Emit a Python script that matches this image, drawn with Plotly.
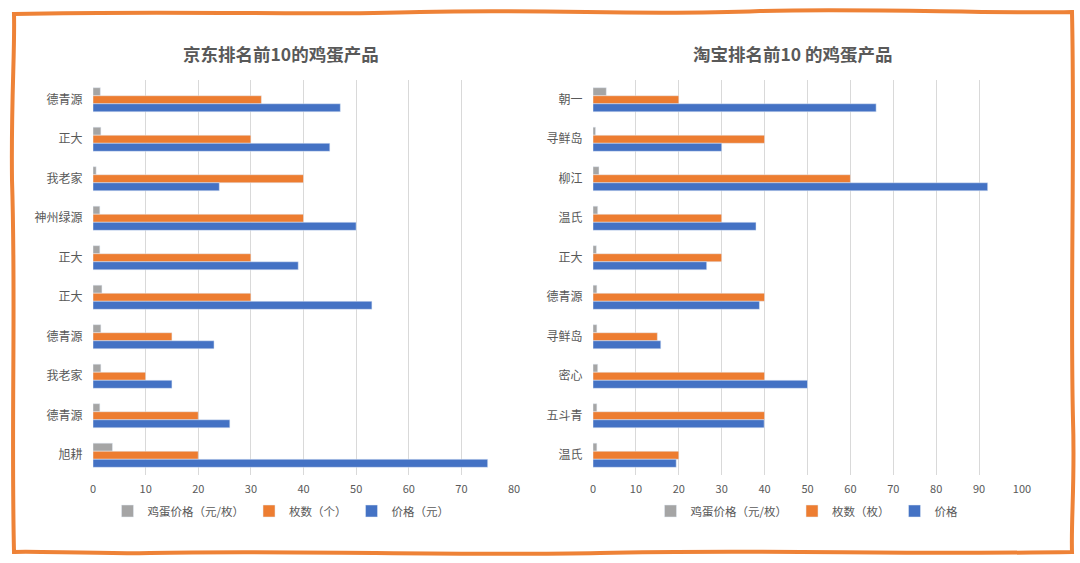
import plotly.graph_objects as go

# 京东
jd_names = ["德青源", "正大", "我老家", "神州绿源", "正大", "正大", "德青源", "我老家", "德青源", "旭耕"]
jd_unit = [1.4, 1.5, 0.6, 1.3, 1.3, 1.7, 1.5, 1.5, 1.3, 3.7]
jd_count = [32, 30, 40, 40, 30, 30, 15, 10, 20, 20]
jd_price = [47, 45, 24, 50, 39, 53, 23, 15, 26, 75]

# 淘宝
tb_names = ["朝一", "寻鲜岛", "柳江", "温氏", "正大", "德青源", "寻鲜岛", "密心", "五斗青", "温氏"]
tb_unit = [3.1, 0.6, 1.4, 1.1, 0.8, 0.9, 0.9, 1.1, 0.9, 0.9]
tb_count = [20, 40, 60, 30, 30, 40, 15, 40, 40, 20]
tb_price = [66, 30, 92, 38, 26.5, 38.8, 15.8, 50, 39.9, 19.4]

GRAY = "#A5A5A5"
ORANGE = "#ED7D31"
BLUE = "#4472C4"
TXT = "#595959"
FONT = "Noto Sans CJK SC"

W, H = 1080, 563
TOP, BOT = 80, 475  # plot area in pixels


def px(x):
    return x / W


def py(y):
    return (BOT - y) / (BOT - TOP)


fig = go.Figure()

idx = list(range(10))

left_series = [("鸡蛋价格（元/枚）", jd_unit, GRAY), ("枚数（个）", jd_count, ORANGE), ("价格（元）", jd_price, BLUE)]
right_series = [("鸡蛋价格（元/枚）", tb_unit, GRAY), ("枚数（枚）", tb_count, ORANGE), ("价格", tb_price, BLUE)]

for name, vals, color in left_series:
    fig.add_trace(go.Bar(y=idx, x=vals, orientation="h", name=name, marker_color=color,
                         xaxis="x", yaxis="y", legend="legend", offsetgroup="L" + name))
for name, vals, color in right_series:
    fig.add_trace(go.Bar(y=idx, x=vals, orientation="h", name=name, marker_color=color,
                         xaxis="x2", yaxis="y2", legend="legend2", offsetgroup="R" + name))

axis_common = dict(showgrid=True, gridcolor="#D9D9D9", gridwidth=1, zeroline=False, showline=False,
                   dtick=10, tickfont=dict(size=11, color=TXT, family=FONT),
                   ticks="outside", ticklen=4, tickcolor="rgba(0,0,0,0)", automargin=False)
yaxis_common = dict(tickmode="array", tickvals=idx, autorange="reversed", showgrid=False,
                    zeroline=False, showline=False, ticks="outside", ticklen=7,
                    tickcolor="rgba(0,0,0,0)",
                    tickfont=dict(size=12, color=TXT, family=FONT), automargin=False)

fig.update_layout(
    width=W, height=H,
    paper_bgcolor="white", plot_bgcolor="white",
    margin=dict(l=0, r=0, t=TOP, b=H - BOT, autoexpand=False),
    barmode="group", bargap=0.39, bargroupgap=0,
    font=dict(family=FONT, color=TXT),
    xaxis=dict(domain=[px(93), px(514)], range=[0, 80], anchor="y", **axis_common),
    yaxis=dict(anchor="x", ticktext=jd_names, **yaxis_common),
    xaxis2=dict(domain=[px(593), px(1022)], range=[0, 100], anchor="y2", **axis_common),
    yaxis2=dict(anchor="x2", ticktext=tb_names, **yaxis_common),
    legend=dict(orientation="h", x=px(281), xanchor="center", y=py(511), yanchor="middle",
                font=dict(size=11.5, color=TXT, family=FONT), itemwidth=30, traceorder="normal"),
    legend2=dict(orientation="h", x=px(807), xanchor="center", y=py(511), yanchor="middle",
                 font=dict(size=11.5, color=TXT, family=FONT), itemwidth=30, traceorder="normal"),
    showlegend=True,
)

fig.add_annotation(text="<b>京东排名前10的鸡蛋产品</b>", xref="paper", yref="paper",
                   x=px(281), y=py(53), xanchor="center", yanchor="middle", showarrow=False,
                   font=dict(size=17.5, color=TXT, family=FONT))
fig.add_annotation(text="<b>淘宝排名前10 的鸡蛋产品</b>", xref="paper", yref="paper",
                   x=px(793), y=py(53), xanchor="center", yanchor="middle", showarrow=False,
                   font=dict(size=17.5, color=TXT, family=FONT))

# hand-drawn looking orange frame (decoration), given in pixels
frame_px = [
    ("M", [(14, 14)]),
    ("C", [(200, 10), (300, 16), (420, 12)]),
    ("C", [(560, 9), (640, 16), (760, 11)]),
    ("C", [(880, 8), (980, 14), (1072, 12)]),
    ("C", [(1075, 150), (1070, 300), (1073, 420)]),
    ("C", [(1075, 480), (1071, 520), (1072, 552)]),
    ("C", [(900, 555), (760, 549), (600, 553)]),
    ("C", [(450, 556), (300, 550), (150, 553)]),
    ("C", [(90, 554), (40, 551), (14, 552)]),
    ("C", [(11, 420), (16, 300), (12, 180)]),
    ("C", [(11, 100), (15, 50), (14, 14)]),
]
path = " ".join(cmd + " " + ", ".join(f"{px(a):.5f} {py(b):.5f}" for a, b in pts) for cmd, pts in frame_px) + " Z"
fig.add_shape(type="path", path=path, xref="paper", yref="paper",
              line=dict(color="#EE8237", width=4), layer="above")

# drop the default page margin so the figure sits at the window's top-left corner
fig.write_html("out.html", config={"displayModeBar": False},
               post_script="document.body.style.margin='0';")
